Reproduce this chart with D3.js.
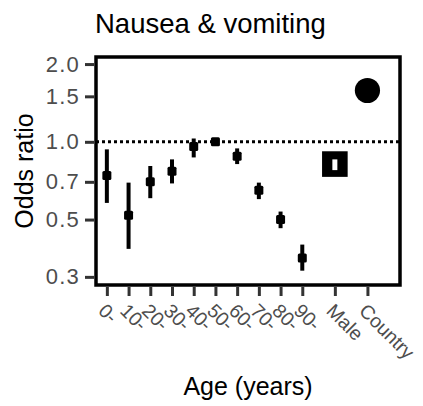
<!DOCTYPE html>
<html>
<head>
<meta charset="utf-8">
<script src="https://cdn.jsdelivr.net/npm/d3@7"></script>
<style>
  body { margin: 0; background: #fff; }
  svg text { font-family: "Liberation Sans", Arial, sans-serif; }
</style>
</head>
<body>
<svg id="chart" width="423" height="406"></svg>
<script>
// data
const categories = ["0-", "10-", "20-", "30-", "40-", "50-", "60-", "70-", "80-", "90-", "Male", "Country"]
const positions = [0, 1, 2, 3, 4, 5, 6, 7, 8, 9, 10.5, 12]
const groups = ["age", "age", "age", "age", "age", "age", "age", "age", "age", "age", "sex", "country"]
const oddsRatio = [0.74, 0.52, 0.70, 0.77, 0.96, 1.00, 0.88, 0.65, 0.50, 0.355, 0.82, 1.58]
const lower = [0.58, 0.385, 0.605, 0.69, 0.87, 0.99, 0.82, 0.60, 0.463, 0.317, 0.777, 1.55]
const upper = [0.935, 0.695, 0.806, 0.855, 1.03, 1.01, 0.943, 0.695, 0.537, 0.40, 0.855, 1.61]
const yTicks = [0.3, 0.5, 0.7, 1.0, 1.5, 2.0]

const svg = d3.select("#chart")

// panel box
const pLeft = 96, pRight = 400, pTop = 57, pBottom = 285

const x = d3.scaleLinear().domain([-0.5, 13.5]).range([pLeft, pRight])
const y = d3.scaleLog().domain([0.279, 2.13]).range([pBottom, pTop])

const rows = categories.map((c, i) => ({
    cat: c, pos: positions[i], group: groups[i],
    or: oddsRatio[i], lo: lower[i], hi: upper[i]
}))

// reference line at OR = 1
svg.append("line")
    .attr("x1", pLeft).attr("x2", pRight)
    .attr("y1", y(1)).attr("y2", y(1))
    .attr("stroke", "#000")
    .attr("stroke-width", 3)
    .attr("stroke-dasharray", "3,3")

// points
const g = svg.append("g")
rows.forEach(d => {
    if (d.group == "country") {
        g.append("circle")
            .attr("cx", x(d.pos)).attr("cy", y(d.or))
            .attr("r", 12.6).attr("fill", "#000")
    } else {
        const s = d.group == "sex" ? 25.6 : 9
        g.append("rect")
            .attr("x", x(d.pos) - s / 2).attr("y", y(d.or) - s / 2)
            .attr("width", s).attr("height", s)
            .attr("rx", d.group == "age" ? 1.5 : 0)
            .attr("fill", "#000")
    }
})

// confidence intervals (white on the big square so it shows)
rows.forEach(d => {
    g.append("line")
        .attr("x1", x(d.pos)).attr("x2", x(d.pos))
        .attr("y1", y(d.lo)).attr("y2", y(d.hi))
        .attr("stroke", d.group == "sex" ? "#fff" : "#000")
        .attr("stroke-width", d.group == "age" ? 4 : 5)
})

// panel border
svg.append("rect")
    .attr("x", pLeft).attr("y", pTop)
    .attr("width", pRight - pLeft).attr("height", pBottom - pTop)
    .attr("fill", "none")
    .attr("stroke", "#000")
    .attr("stroke-width", 3.5)

// y axis
const yAxis = d3.axisLeft(y)
    .tickValues(yTicks)
    .tickFormat(d3.format(".1f"))
    .tickSize(9)
    .tickPadding(5)
const ay = svg.append("g")
    .attr("transform", `translate(${pLeft - 2},0)`)
    .call(yAxis)
ay.select(".domain").remove()
ay.selectAll(".tick line").attr("stroke", "#333").attr("stroke-width", 3)
ay.selectAll(".tick text")
    .attr("fill", "#4d4d4d")
    .style("font-size", "22px")
    .style("letter-spacing", "1.2px")

// x axis
const xAxis = d3.axisBottom(x)
    .tickValues(positions)
    .tickFormat((d, i) => categories[i])
    .tickSize(9)
const ax = svg.append("g")
    .attr("transform", `translate(0,${pBottom + 2})`)
    .call(xAxis)
ax.select(".domain").remove()
ax.selectAll(".tick line").attr("stroke", "#333").attr("stroke-width", 3)
ax.selectAll(".tick text")
    .attr("fill", "#4d4d4d")
    .style("font-size", "19.5px")
    .attr("text-anchor", "start")
    .attr("y", 0).attr("dy", 0)
    .attr("transform", "translate(-10,25) rotate(45)")

// titles
svg.append("text")
    .attr("x", pLeft - 1).attr("y", 33)
    .style("font-size", "27.5px")
    .attr("fill", "#000")
    .text("Nausea & vomiting")

svg.append("text")
    .attr("transform", `translate(33,${(pTop + pBottom) / 2}) rotate(-90)`)
    .attr("text-anchor", "middle")
    .style("font-size", "25px")
    .attr("fill", "#000")
    .text("Odds ratio")

svg.append("text")
    .attr("x", (pLeft + pRight) / 2).attr("y", 395)
    .attr("text-anchor", "middle")
    .style("font-size", "25px")
    .attr("fill", "#000")
    .text("Age (years)")
</script>
</body>
</html>
